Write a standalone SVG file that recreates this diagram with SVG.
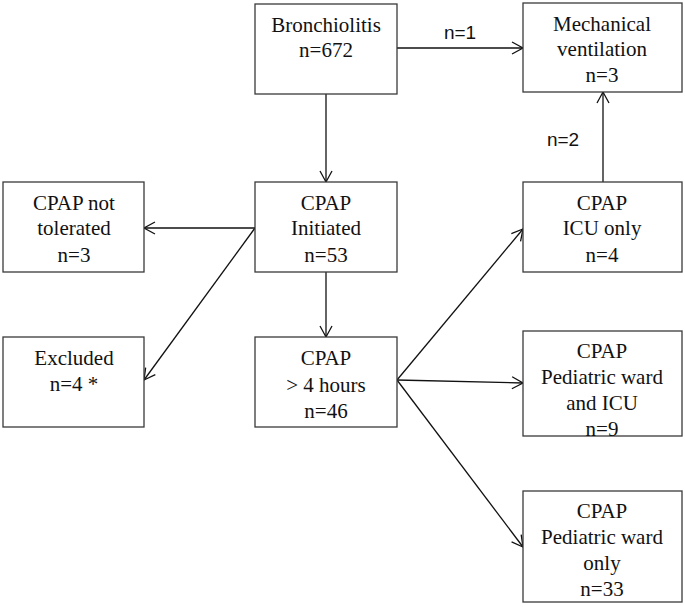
<svg xmlns="http://www.w3.org/2000/svg" width="685" height="607" viewBox="0 0 685 607">
<style>
.box{fill:#fff;stroke:#3a3a3a;stroke-width:1.3}
.t{font-family:"Liberation Serif","Times New Roman","DejaVu Serif",serif;font-size:21px;fill:#111;text-anchor:middle}
.l{font-family:"Liberation Sans",Arial,sans-serif;font-size:19px;fill:#111;text-anchor:middle}
.c{stroke:#111;stroke-width:1.3;fill:none;marker-end:url(#a)}
</style>
<defs>
<marker id="a" markerUnits="userSpaceOnUse" markerWidth="14" markerHeight="14" refX="12" refY="7" orient="auto" viewBox="0 0 14 14">
<path d="M1,1 L12,7 L1,13" fill="none" stroke="#111" stroke-width="1.3"/>
</marker>
</defs>
<rect width="685" height="607" fill="#fff"/>
<g id="connectors">
<line class="c" x1="397" y1="48" x2="523" y2="48"/>
<line class="c" x1="326" y1="94" x2="326" y2="182"/>
<line class="c" x1="603" y1="182" x2="603" y2="92"/>
<line class="c" x1="255" y1="228" x2="144" y2="228"/>
<line class="c" x1="255" y1="228" x2="144" y2="380"/>
<line class="c" x1="326" y1="272" x2="326" y2="337"/>
<line class="c" x1="397" y1="380" x2="523" y2="229"/>
<line class="c" x1="397" y1="380" x2="523" y2="383"/>
<line class="c" x1="397" y1="380" x2="523" y2="547"/>
<text class="l" x="460" y="39">n=1</text>
<text class="l" x="563" y="146">n=2</text>
</g>
<g id="bronchiolitis">
<rect class="box" x="255" y="4" width="142" height="90"/>
<text class="t" x="326" y="32">Bronchiolitis</text>
<text class="t" x="326" y="57">n=672</text>
</g>
<g id="mechanical">
<rect class="box" x="523" y="3" width="159" height="89"/>
<text class="t" x="602" y="31">Mechanical</text>
<text class="t" x="602" y="56">ventilation</text>
<text class="t" x="602" y="82">n=3</text>
</g>
<g id="notTolerated">
<rect class="box" x="3" y="182" width="141" height="90"/>
<text class="t" x="74" y="210">CPAP not</text>
<text class="t" x="74" y="235">tolerated</text>
<text class="t" x="74" y="262">n=3</text>
</g>
<g id="initiated">
<rect class="box" x="255" y="182" width="142" height="90"/>
<text class="t" x="326" y="210">CPAP</text>
<text class="t" x="326" y="235">Initiated</text>
<text class="t" x="326" y="262">n=53</text>
</g>
<g id="icuOnly">
<rect class="box" x="523" y="182" width="159" height="90"/>
<text class="t" x="602" y="210">CPAP</text>
<text class="t" x="602" y="235">ICU only</text>
<text class="t" x="602" y="262">n=4</text>
</g>
<g id="excluded">
<rect class="box" x="3" y="337" width="141" height="90"/>
<text class="t" x="74" y="365">Excluded</text>
<text class="t" x="74" y="391">n=4 *</text>
</g>
<g id="over4h">
<rect class="box" x="255" y="337" width="142" height="90"/>
<text class="t" x="326" y="365">CPAP</text>
<text class="t" x="326" y="392">&gt; 4 hours</text>
<text class="t" x="326" y="418">n=46</text>
</g>
<g id="wardIcu">
<rect class="box" x="523" y="331" width="159" height="105"/>
<text class="t" x="602" y="358">CPAP</text>
<text class="t" x="602" y="384">Pediatric ward</text>
<text class="t" x="602" y="410">and ICU</text>
<text class="t" x="602" y="436">n=9</text>
</g>
<g id="wardOnly">
<rect class="box" x="523" y="491" width="159" height="111"/>
<text class="t" x="602" y="518">CPAP</text>
<text class="t" x="602" y="544">Pediatric ward</text>
<text class="t" x="602" y="570">only</text>
<text class="t" x="602" y="596">n=33</text>
</g>
</svg>
